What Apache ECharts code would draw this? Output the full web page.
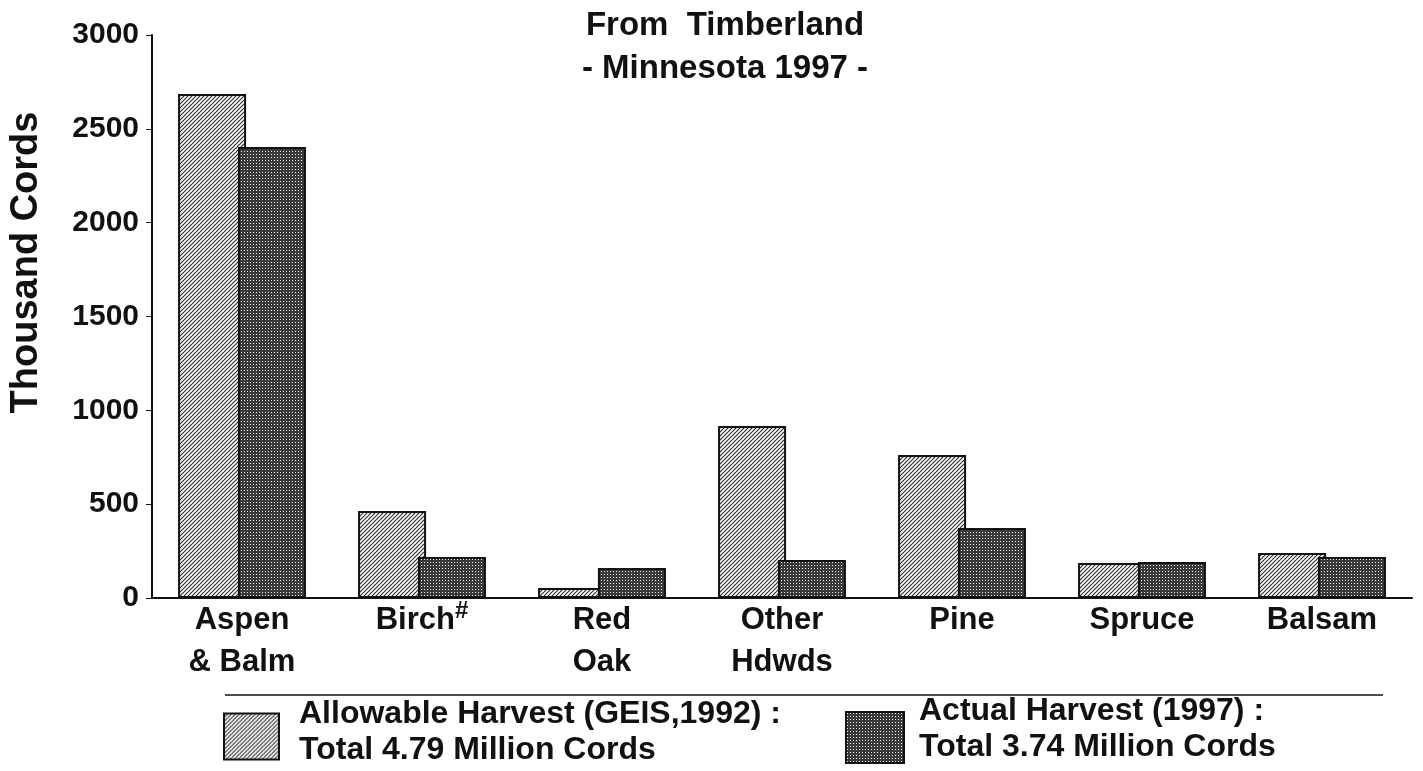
<!DOCTYPE html>
<html>
<head>
<meta charset="utf-8">
<script src="https://cdn.jsdelivr.net/npm/echarts@6/dist/echarts.min.js"></script>
<style>
  html, body { margin: 0; padding: 0; background: #fff; }
  #chart { width: 1423px; height: 771px; }
</style>
</head>
<body>
<div id="chart"></div>
<script>
  // data (thousand cords)
  const categories = ['Aspen\n& Balm', 'Birch', 'Red\nOak', 'Other\nHdwds', 'Pine', 'Spruce', 'Balsam'];
  const allowable = [2685, 463, 53, 916, 762, 186, 240];
  const actual = [2403, 218, 160, 202, 373, 192, 218];
  const yTicks = [0, 500, 1000, 1500, 2000, 2500, 3000];
  const seriesNames = ['Allowable Harvest (GEIS,1992) :', 'Actual Harvest (1997) :'];
  const seriesTotals = ['Total 4.79 Million Cords', 'Total 3.74 Million Cords'];

  const font = '"Liberation Sans", Arial, sans-serif';

  // hatch ////
  function hatchPattern() {
    let c = document.createElement('canvas');
    c.width = 4; c.height = 4;
    let g = c.getContext('2d');
    g.fillStyle = '#fff';
    g.fillRect(0, 0, 4, 4);
    g.strokeStyle = '#333';
    g.lineWidth = 1.2;
    for (let k = -4; k <= 8; k += 4) {
      g.beginPath();
      g.moveTo(k - 4, 4);
      g.lineTo(k + 4, -4);
      g.stroke();
    }
    return c;
  }
  // fine checker
  function checkPattern() {
    let c = document.createElement('canvas');
    c.width = 3; c.height = 3;
    let g = c.getContext('2d');
    g.fillStyle = '#3a3a3a';
    g.fillRect(0, 0, 3, 3);
    g.fillStyle = '#eee';
    g.fillRect(1, 1, 1, 1);
    return c;
  }

  const hatchFill = { image: hatchPattern(), repeat: 'repeat' };
  const checkFill = { image: checkPattern(), repeat: 'repeat' };

  let myChart = echarts.init(document.getElementById('chart'));

  // one legend per series, each laid out like the original key
  // (the empty last line lifts the two text lines a little)
  function legendFor(idx, left, top, w, h, pad, lift) {
    return {
      data: [{ name: seriesNames[idx], icon: 'rect' }],
      left: left,
      top: top,
      padding: 0,
      itemWidth: w,
      itemHeight: h,
      selectedMode: false,
      formatter: function (name) {
        return '{t|' + name + '}\n{t|' + seriesTotals[idx] + '}\n{s|}';
      },
      textStyle: {
        padding: [0, 0, 0, pad],
        rich: {
          t: {
            fontFamily: font,
            fontWeight: 'bold',
            fontSize: 32,
            lineHeight: 36,
            color: '#111'
          },
          s: { fontSize: 1, lineHeight: lift }
        }
      }
    };
  }

  myChart.setOption({
    animation: false,
    backgroundColor: '#fff',
    title: {
      text: 'From  Timberland\n- Minnesota 1997 -',
      left: 720,
      textAlign: 'center',
      top: -1,
      textStyle: {
        fontFamily: font,
        fontWeight: 'bold',
        fontSize: 33,
        lineHeight: 43,
        color: '#111'
      }
    },
    grid: {
      left: 152,
      right: 11,
      top: 35,
      bottom: 173,
      outerBoundsMode: 'none'
    },
    legend: [
      legendFor(0, 223, 698.5, 55, 46, 15, 8),
      legendFor(1, 845, 695.5, 58, 51, 10, 16)
    ],
    xAxis: {
      type: 'category',
      data: categories,
      axisLine: { lineStyle: { color: '#111', width: 2 } },
      axisTick: { show: false },
      axisLabel: {
        margin: 1,
        interval: 0,
        fontFamily: font,
        fontWeight: 'bold',
        fontSize: 31,
        lineHeight: 42,
        color: '#111',
        formatter: function (v) {
          if (v === 'Birch') return 'Birch{sup|#}';
          return v;
        },
        rich: {
          sup: {
            fontFamily: font,
            fontWeight: 'bold',
            fontSize: 24,
            lineHeight: 42,
            color: '#111',
            verticalAlign: 'top',
            padding: [0, 0, 14, 0]
          }
        }
      }
    },
    yAxis: {
      type: 'value',
      min: yTicks[0],
      max: yTicks[yTicks.length - 1],
      interval: 500,
      name: 'Thousand Cords',
      nameLocation: 'middle',
      nameGap: 106,
      nameRotate: 90,
      nameTextStyle: {
        fontFamily: font,
        fontWeight: 'bold',
        fontSize: 38,
        color: '#111',
        padding: [0, 0, 0, 108]
      },
      axisLine: { show: true, lineStyle: { color: '#111', width: 2 } },
      axisTick: { show: true, length: 6, lineStyle: { color: '#111', width: 1 } },
      splitLine: { show: false },
      axisLabel: {
        margin: 13,
        fontFamily: font,
        fontWeight: 'bold',
        fontSize: 30,
        color: '#111',
        formatter: function (v) {
          return String(v);
        }
      }
    },
    graphic: [
      {
        type: 'line',
        shape: { x1: 225, y1: 695, x2: 1383, y2: 695 },
        style: { stroke: '#111', lineWidth: 1.5 }
      }
    ],
    series: [
      {
        name: seriesNames[0],
        type: 'bar',
        data: allowable,
        barWidth: 68,
        barGap: '-12%',
        itemStyle: { color: hatchFill, borderColor: '#111', borderWidth: 2 }
      },
      {
        name: seriesNames[1],
        type: 'bar',
        data: actual,
        barWidth: 68,
        itemStyle: { color: checkFill, borderColor: '#111', borderWidth: 2 }
      }
    ]
  });

  window.addEventListener('resize', () => {
    myChart.resize();
  });
</script>
</body>
</html>
